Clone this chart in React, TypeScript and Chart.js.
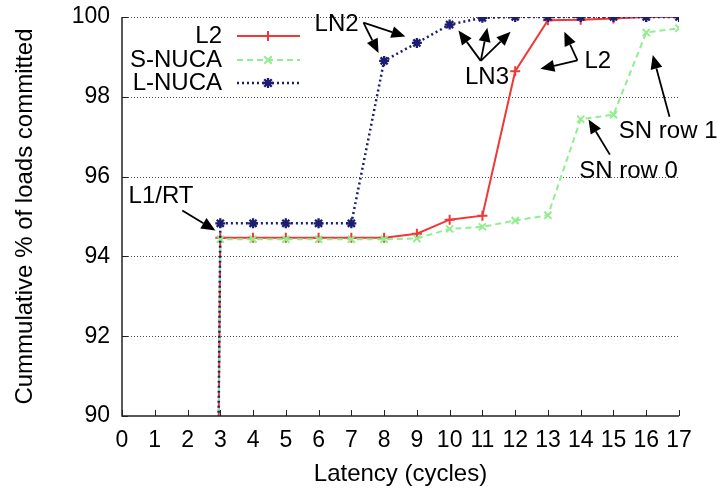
import React, { useEffect, useRef } from 'react';
import { Chart, registerables } from 'chart.js';

Chart.register(...registerables);

// ---- data ----
const latency = [0, 1, 2, 3, 4, 5, 6, 7, 8, 9, 10, 11, 12, 13, 14, 15, 16, 17];
const l2Values = [0, 0, 0, 94.47, 94.47, 94.47, 94.47, 94.47, 94.47, 94.57, 94.92, 95.02, 98.64, 99.92, 99.93, 99.96, 100, 100];
const sNucaValues = [0, 0, 0, 94.43, 94.43, 94.43, 94.43, 94.43, 94.43, 94.45, 94.69, 94.74, 94.9, 95.03, 97.44, 97.55, 99.61, 99.72];
const lNucaValues = [0, 0, 0, 94.83, 94.83, 94.83, 94.83, 94.83, 98.9, 99.35, 99.81, 99.98, 100, 100, 100, 100, 100, 100];
const yTicks = [90, 92, 94, 96, 98, 100];
const xTicks = latency;
const seriesNames = ['L2', 'S-NUCA', 'L-NUCA'];
const xTitle = 'Latency (cycles)';
const yTitle = 'Cummulative % of loads committed';

// annotation labels (text, x, y) and arrows [fromX, fromY, toX, toY] in data units
const labelTexts = ['LN2', 'LN3', 'L2', 'SN row 0', 'SN row 1', 'L1/RT'];
const labelX = [6.55, 11.14, 14.52, 15.46, 16.67, 1.19];
const labelY = [99.81, 98.48, 98.88, 96.12, 97.13, 95.51];
const arrows: number[][] = [
  [7.37, 99.86, 7.83, 99.1],
  [7.37, 99.86, 8.65, 99.51],
  [10.95, 98.9, 10.27, 99.66],
  [10.95, 98.9, 11.15, 99.73],
  [10.95, 98.9, 11.86, 99.63],
  [13.9, 98.91, 13.5, 99.63],
  [13.9, 98.91, 12.77, 98.7],
  [14.89, 96.55, 14.24, 97.43],
  [16.71, 97.5, 16.2, 99.05],
  [1.84, 95.15, 2.85, 94.65],
];

const FONT = '"Liberation Sans", Arial, sans-serif';
const FS_TICK = 23;
const FS = 24;

const styles = [
  { color: '#f03838', dash: [] as number[], width: 2, marker: 'plus', r: 5, pw: 2 },
  { color: '#90ee90', dash: [6, 4], width: 2, marker: 'x', r: 5, pw: 2 },
  { color: '#1c1c70', dash: [2, 3], width: 2.5, marker: 'star', r: 5, pw: 2.3 },
];

function drawMarker(ctx: CanvasRenderingContext2D, kind: string, x: number, y: number, r: number, color: string, w: number) {
  ctx.save();
  ctx.setLineDash([]);
  ctx.strokeStyle = color;
  ctx.lineWidth = w;
  ctx.beginPath();
  if (kind === 'plus' || kind === 'star') {
    ctx.moveTo(x - r, y); ctx.lineTo(x + r, y);
    ctx.moveTo(x, y - r); ctx.lineTo(x, y + r);
  }
  if (kind === 'x' || kind === 'star') {
    const d = r * 0.75;
    ctx.moveTo(x - d, y - d); ctx.lineTo(x + d, y + d);
    ctx.moveTo(x - d, y + d); ctx.lineTo(x + d, y - d);
  }
  ctx.stroke();
  ctx.restore();
}

function arrow(ctx: CanvasRenderingContext2D, x1: number, y1: number, x2: number, y2: number) {
  const ang = Math.atan2(y2 - y1, x2 - x1);
  const hl = 14, hw = 6;
  const bx = x2 - hl * Math.cos(ang), by = y2 - hl * Math.sin(ang);
  ctx.beginPath();
  ctx.moveTo(x1, y1);
  ctx.lineTo(bx, by);
  ctx.stroke();
  ctx.beginPath();
  ctx.moveTo(x2, y2);
  ctx.lineTo(bx + hw * Math.sin(ang), by - hw * Math.cos(ang));
  ctx.lineTo(bx - hw * Math.sin(ang), by + hw * Math.cos(ang));
  ctx.closePath();
  ctx.fill();
}

const decorPlugin = {
  id: 'decor',
  beforeDatasetsDraw(chart: any) {
    const { ctx, chartArea: a, scales } = chart;
    const ys = scales.y;
    ctx.save();
    ctx.strokeStyle = '#555';
    ctx.lineWidth = 1;
    ctx.setLineDash([1, 2]);
    yTicks.forEach((v) => {
      if (v === 90) return;
      const py = Math.round(ys.getPixelForValue(v)) + 0.5;
      ctx.beginPath();
      ctx.moveTo(a.left, py);
      ctx.lineTo(a.right, py);
      ctx.stroke();
    });
    ctx.restore();
  },
  afterDatasetsDraw(chart: any) {
    const { ctx, chartArea: a, scales } = chart;
    const xs = scales.x, ys = scales.y;
    ctx.save();
    // axes
    ctx.strokeStyle = '#222';
    ctx.lineWidth = 1.5;
    ctx.setLineDash([]);
    ctx.beginPath();
    ctx.moveTo(a.left, a.top);
    ctx.lineTo(a.left, a.bottom);
    ctx.lineTo(a.right, a.bottom);
    ctx.stroke();
    ctx.lineWidth = 1;
    xTicks.forEach((v) => {
      const px = Math.round(xs.getPixelForValue(v)) + 0.5;
      ctx.beginPath();
      ctx.moveTo(px, a.bottom);
      ctx.lineTo(px, a.bottom - 6);
      ctx.stroke();
    });
    yTicks.forEach((v) => {
      const py = Math.round(ys.getPixelForValue(v)) + 0.5;
      ctx.beginPath();
      ctx.moveTo(a.left, py);
      ctx.lineTo(a.left + 6, py);
      ctx.stroke();
    });

    // legend
    ctx.font = `${FS}px ${FONT}`;
    ctx.textBaseline = 'middle';
    const rows = [36, 60, 83];
    seriesNames.forEach((name, i) => {
      const s = styles[i];
      ctx.fillStyle = '#000';
      ctx.textAlign = 'right';
      ctx.fillText(name, 222, rows[i]);
      ctx.strokeStyle = s.color;
      ctx.lineWidth = s.width;
      ctx.setLineDash(s.dash);
      ctx.beginPath();
      ctx.moveTo(237, rows[i]);
      ctx.lineTo(300, rows[i]);
      ctx.stroke();
      drawMarker(ctx, s.marker, 268, rows[i], s.r, s.color, s.pw);
    });

    // annotations
    ctx.setLineDash([]);
    ctx.fillStyle = '#000';
    ctx.strokeStyle = '#000';
    ctx.lineWidth = 1.8;
    ctx.textAlign = 'center';
    labelTexts.forEach((t, i) => {
      ctx.fillText(t, xs.getPixelForValue(labelX[i]), ys.getPixelForValue(labelY[i]));
    });
    arrows.forEach((ar) => {
      arrow(ctx, xs.getPixelForValue(ar[0]), ys.getPixelForValue(ar[1]), xs.getPixelForValue(ar[2]), ys.getPixelForValue(ar[3]));
    });

    // axis titles
    ctx.fillText(xTitle, (a.left + a.right) / 2, 474);
    ctx.save();
    ctx.translate(25, (a.top + a.bottom) / 2);
    ctx.rotate(-Math.PI / 2);
    ctx.fillText(yTitle, 0, 0);
    ctx.restore();
    ctx.restore();
  },
};

export default function App() {
  const ref = useRef<HTMLCanvasElement>(null);
  useEffect(() => {
    document.body.style.margin = '0';
    const all = [l2Values, sNucaValues, lNucaValues];
    const datasets = seriesNames.map((name, i) => {
      const s = styles[i];
      return {
        label: name,
        data: latency.map((x, j) => ({ x, y: all[i][j] })),
        borderColor: s.color,
        backgroundColor: s.color,
        borderWidth: s.width,
        borderDash: s.dash,
        pointStyle: s.marker === 'plus' ? 'cross' : s.marker === 'x' ? 'crossRot' : 'star',
        pointRadius: latency.map((x) => (x < 3 ? 0 : s.r)),
        pointBorderWidth: s.pw,
        pointBorderColor: s.color,
        tension: 0,
        order: 2 - i,
      };
    });
    const chart = new Chart(ref.current!, {
      type: 'line',
      data: { datasets } as any,
      plugins: [decorPlugin],
      options: {
        animation: false,
        responsive: false,
        devicePixelRatio: 1,
        layout: { padding: { top: 17, right: 38, left: 0, bottom: 0 } },
        plugins: { legend: { display: false }, tooltip: { enabled: false } },
        scales: {
          x: {
            type: 'linear',
            min: 0,
            max: 17,
            afterFit: (s: any) => { s.height = 74; s.paddingLeft = 0; s.paddingRight = 0; },
            afterBuildTicks: (s: any) => { s.ticks = xTicks.map((v) => ({ value: v })); },
            ticks: { autoSkip: false, maxRotation: 0, padding: 11, color: '#000', font: { family: FONT, size: FS_TICK } },
            grid: { display: false, drawTicks: false },
            border: { display: false },
          },
          y: {
            type: 'linear',
            min: 90,
            max: 100,
            afterFit: (s: any) => { s.width = 122; s.paddingTop = 0; s.paddingBottom = 0; },
            afterBuildTicks: (s: any) => { s.ticks = yTicks.map((v) => ({ value: v })); },
            ticks: { padding: 12, color: '#000', font: { family: FONT, size: FS_TICK } },
            grid: { display: false, drawTicks: false },
            border: { display: false },
          },
        },
      } as any,
    });
    return () => chart.destroy();
  }, []);
  return (
    <div style={{ width: 717, height: 490 }}>
      <canvas ref={ref} width={717} height={490} />
    </div>
  );
}
